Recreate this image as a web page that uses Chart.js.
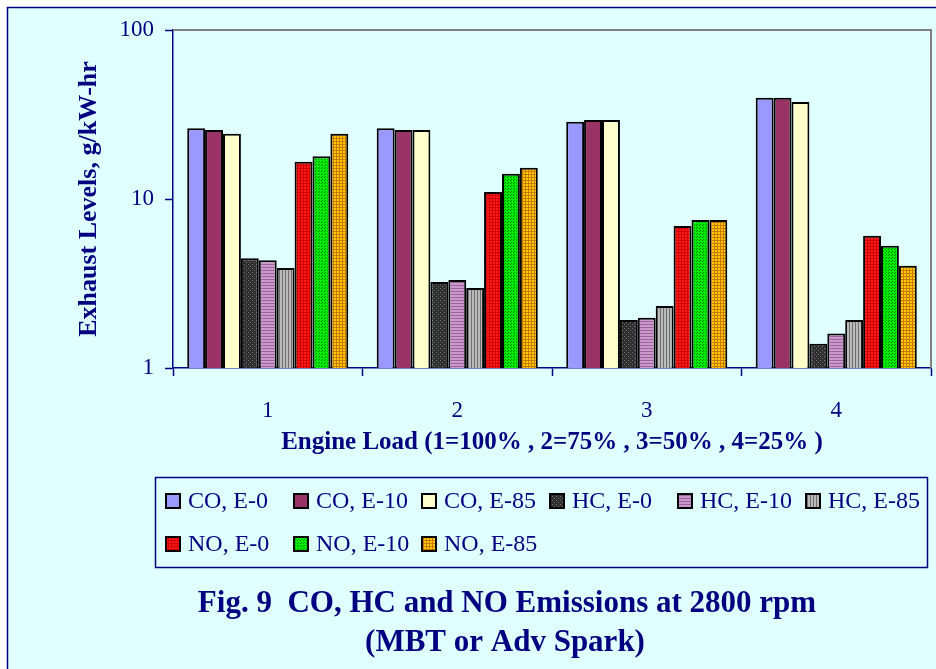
<!DOCTYPE html>
<html>
<head>
<meta charset="utf-8">
<script src="https://cdn.jsdelivr.net/npm/chart.js@4.4.0/dist/chart.umd.min.js"></script>
<style>
  html, body { margin: 0; padding: 0; background: #fff; }
  #wrap { width: 936px; height: 669px; }
</style>
</head>
<body>
<div id="wrap"><canvas id="emissions" width="936" height="669"></canvas></div>
<script>
// values (log scale, g/kW-hr)
const categories = ['1', '2', '3', '4'];
const coE0 = [26.2, 26.2, 28.6, 39.7];
const coE10 = [25.6, 25.6, 29.3, 39.7];
const coE85 = [24.3, 25.6, 29.3, 37.5];
const hcE0 = [4.46, 3.23, 1.92, 1.39];
const hcE10 = [4.34, 3.32, 1.98, 1.60];
const hcE85 = [3.91, 2.97, 2.33, 1.92];
const noE0 = [16.6, 11.0, 6.92, 6.07];
const noE10 = [17.9, 14.1, 7.51, 5.29];
const noE85 = [24.3, 15.3, 7.51, 4.03];

const seriesNames = ['CO, E-0', 'CO, E-10', 'CO, E-85', 'HC, E-0', 'HC, E-10', 'HC, E-85', 'NO, E-0', 'NO, E-10', 'NO, E-85'];
const yTickValues = [1, 10, 100];
const yTickLabels = ['1', '10', '100'];
const xTitle = 'Engine Load (1=100% , 2=75% , 3=50% , 4=25% )';
const yTitle = 'Exhaust Levels, g/kW-hr';
const figTitle = ['Fig. 9  CO, HC and NO Emissions at 2800 rpm', '(MBT or Adv Spark)'];

const NAVY = '#000080';
const BG = '#E0FFFF';
const SERIF = '"Liberation Serif", "Times New Roman", serif';

// small repeating fills like the old office hatch patterns
function makePattern(size, base, draw) {
  const c = document.createElement('canvas');
  c.width = size;
  c.height = size;
  const g = c.getContext('2d');
  g.fillStyle = base;
  g.fillRect(0, 0, size, size);
  draw(g);
  return g.createPattern(c, 'repeat');
}

const fills = [
  '#9999FF',
  '#993366',
  '#FFFFCC',
  makePattern(4, '#2e2e2e', g => { g.fillStyle = '#777'; g.fillRect(0, 0, 1, 1); g.fillRect(2, 2, 1, 1); }),
  makePattern(3, '#CC99CC', g => { g.fillStyle = '#996699'; g.fillRect(0, 0, 3, 1); }),
  makePattern(3, '#BBBBBB', g => { g.fillStyle = '#6e6e6e'; g.fillRect(0, 0, 1, 3); }),
  makePattern(3, '#FF1a1a', g => { g.fillStyle = '#D00000'; g.fillRect(0, 0, 3, 1); g.fillRect(0, 0, 1, 3); }),
  makePattern(3, '#00EE00', g => { g.fillStyle = '#008800'; g.fillRect(0, 0, 1, 1); g.fillRect(1, 2, 1, 1); }),
  makePattern(3, '#FFCC00', g => { g.fillStyle = '#CC7700'; g.fillRect(0, 0, 3, 1); g.fillRect(0, 0, 1, 3); })
];

const seriesData = [coE0, coE10, coE85, hcE0, hcE10, hcE85, noE0, noE10, noE85];

const datasets = seriesData.map((d, i) => ({
  label: seriesNames[i],
  data: d,
  backgroundColor: fills[i],
  borderColor: '#000',
  borderWidth: 2,
  categoryPercentage: 0.85,
  barPercentage: 1.0
}));

// page background, plot frame, legend box and figure caption
const decor = {
  id: 'decor',
  beforeDraw(chart) {
    const ctx = chart.ctx;
    ctx.save();
    ctx.fillStyle = '#fff';
    ctx.fillRect(0, 0, chart.width, chart.height);
    ctx.fillStyle = BG;
    ctx.fillRect(7, 7, chart.width - 7, chart.height - 7);
    ctx.strokeStyle = NAVY;
    ctx.lineWidth = 1.5;
    ctx.beginPath();
    ctx.moveTo(7.5, chart.height);
    ctx.lineTo(7.5, 7.5);
    ctx.lineTo(chart.width, 7.5);
    ctx.stroke();
    ctx.restore();
  },
  afterDraw(chart) {
    const ctx = chart.ctx;
    const a = chart.chartArea;
    ctx.save();
    // grey frame on top and right
    ctx.strokeStyle = '#808080';
    ctx.lineWidth = 2;
    ctx.beginPath();
    ctx.moveTo(a.left, a.top);
    ctx.lineTo(a.right, a.top);
    ctx.lineTo(a.right, a.bottom);
    ctx.stroke();

    // legend
    ctx.strokeStyle = NAVY;
    ctx.lineWidth = 1.5;
    ctx.strokeRect(155.5, 477.5, 772, 90);
    ctx.font = '24px ' + SERIF;
    ctx.textBaseline = 'middle';
    ctx.textAlign = 'left';
    chart.data.datasets.forEach((ds, i) => {
      const col = i % 6;
      const row = Math.floor(i / 6);
      const x = 165 + 128 * col;
      const y = row === 0 ? 493 : 536;
      ctx.fillStyle = ds.backgroundColor;
      ctx.fillRect(x, y, 16, 16);
      ctx.strokeStyle = '#000';
      ctx.lineWidth = 2;
      ctx.strokeRect(x + 1, y + 1, 14, 14);
      ctx.fillStyle = NAVY;
      ctx.fillText(ds.label, x + 23, y + 9);
    });

    // caption
    ctx.font = 'bold 31px ' + SERIF;
    ctx.textAlign = 'center';
    ctx.textBaseline = 'alphabetic';
    ctx.fillStyle = NAVY;
    ctx.fillText(figTitle[0], 507, 612);
    ctx.fillText(figTitle[1], 505, 651);
    ctx.restore();
  }
};

new Chart(document.getElementById('emissions'), {
  type: 'bar',
  data: { labels: categories, datasets: datasets },
  options: {
    responsive: false,
    animation: false,
    layout: { padding: { top: 30, right: 5, left: 0, bottom: 0 } },
    plugins: { legend: { display: false }, tooltip: { enabled: false } },
    scales: {
      x: {
        grid: { display: true, drawOnChartArea: false, offset: true, tickLength: 8, tickColor: NAVY, tickWidth: 1.5 },
        border: { color: NAVY, width: 1.5 },
        ticks: { color: NAVY, font: { family: SERIF, size: 23 }, padding: 21 },
        title: {
          display: true, text: xTitle, color: NAVY,
          font: { family: SERIF, size: 25, weight: 'bold' },
          padding: { top: 0, bottom: 211 }
        },
        afterFit: s => { s.height = 301; }
      },
      y: {
        type: 'logarithmic',
        min: 1,
        max: 100,
        afterBuildTicks: axis => { axis.ticks = yTickValues.map(v => ({ value: v })); },
        ticks: {
          color: NAVY,
          font: { family: SERIF, size: 23 },
          padding: 11,
          callback: (v, i) => yTickLabels[i]
        },
        grid: { drawOnChartArea: false, tickLength: 8, tickColor: NAVY, tickWidth: 1.5 },
        border: { color: NAVY, width: 1.5 },
        title: {
          display: true, text: yTitle, color: NAVY,
          font: { family: SERIF, size: 26, weight: 'bold' },
          padding: { top: 74, bottom: 0 }
        },
        afterFit: s => { s.width = 173; }
      }
    }
  },
  plugins: [decor]
});
</script>
</body>
</html>
